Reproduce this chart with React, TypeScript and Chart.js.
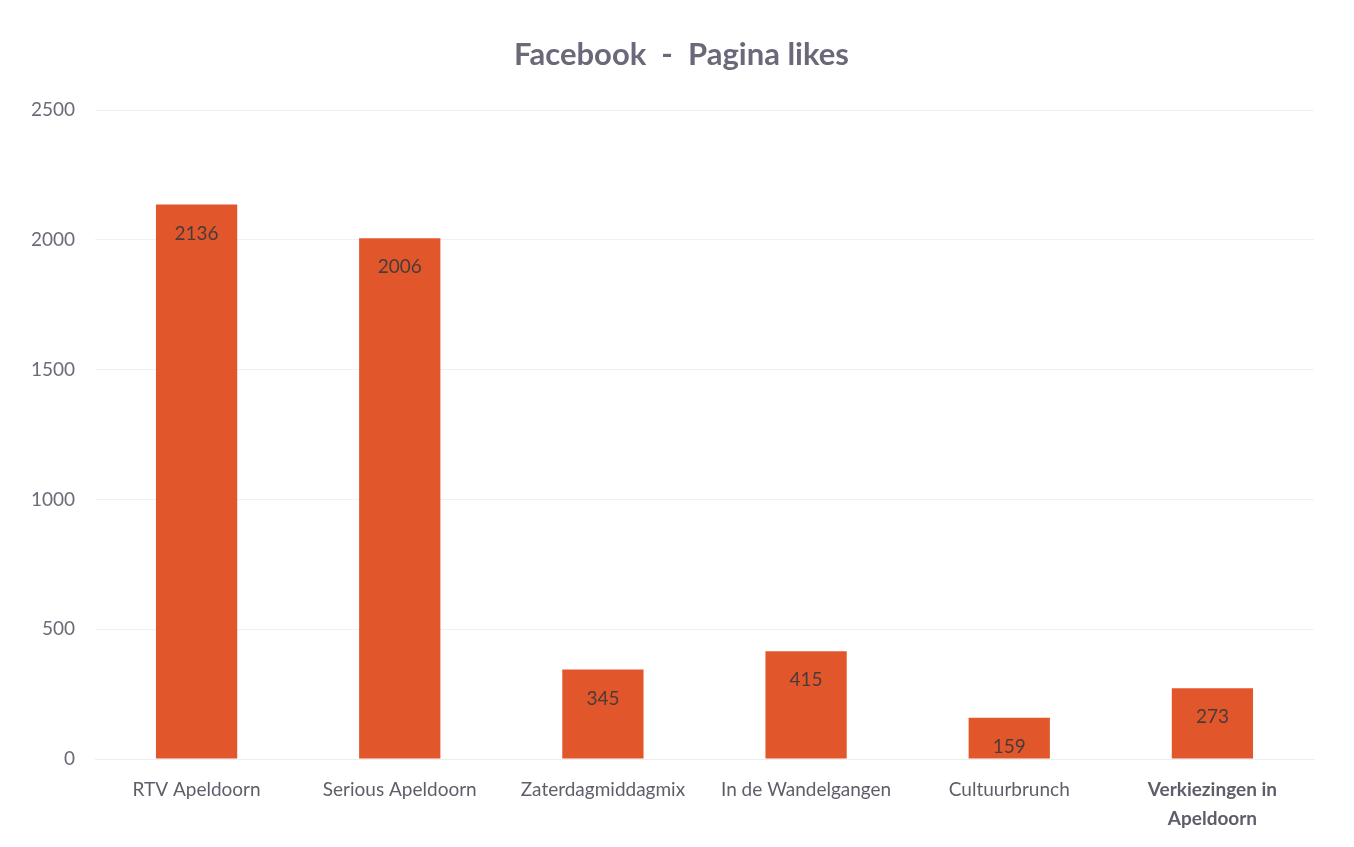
import React, { useEffect, useRef } from "react";
import { Chart, registerables } from "chart.js";

Chart.register(...registerables);

const categories: (string | string[])[] = [
  "RTV Apeldoorn",
  "Serious Apeldoorn",
  "Zaterdagmiddagmix",
  "In de Wandelgangen",
  "Cultuurbrunch",
  ["Verkiezingen in", "Apeldoorn"],
];
const likes: number[] = [2136, 2006, 345, 415, 159, 273];
const titleText = "Facebook  -  Pagina likes";

const FONT = "Lato, 'Open Sans', sans-serif";

const valueLabels = {
  id: "valueLabels",
  afterDatasetsDraw(chart: any) {
    const ctx = chart.ctx;
    const meta = chart.getDatasetMeta(0);
    ctx.save();
    ctx.font = `19px ${FONT}`;
    ctx.fillStyle = "#4a3b3b";
    ctx.textAlign = "center";
    ctx.textBaseline = "middle";
    meta.data.forEach((bar: any, i: number) => {
      ctx.fillText(String(likes[i]), bar.x, bar.y + 29);
    });
    ctx.restore();
  },
};

const chartTitle = {
  id: "chartTitle",
  afterDraw(chart: any) {
    const ctx = chart.ctx;
    const area = chart.chartArea;
    ctx.save();
    ctx.font = `bold 31px ${FONT}`;
    ctx.fillStyle = "#6b6979";
    ctx.textAlign = "center";
    ctx.textBaseline = "middle";
    ctx.fillText(titleText, (area.left + area.right) / 2 - 23, area.top - 55);
    ctx.restore();
  },
};

export default function App() {
  const ref = useRef<HTMLCanvasElement | null>(null);
  useEffect(() => {
    if (!ref.current) return;
    const chart = new Chart(ref.current, {
      type: "bar",
      data: {
        labels: categories,
        datasets: [
          {
            data: likes,
            backgroundColor: "#E1572B",
            barPercentage: 0.4,
            categoryPercentage: 1,
          },
        ],
      },
      options: {
        animation: false,
        responsive: true,
        maintainAspectRatio: false,
        layout: { padding: { left: 0, right: 40, top: 110, bottom: 0 } },
        plugins: {
          legend: { display: false },
          tooltip: { enabled: false },
          title: { display: false },
        },
        scales: {
          y: {
            min: 0,
            max: 2500,
            ticks: {
              stepSize: 500,
              color: "#6b6b78",
              font: { family: FONT, size: 19 },
              padding: 20,
              callback: (v: any) => String(v),
            },
            grid: { color: "#f1f1f1", drawTicks: false },
            border: { display: false },
            afterFit: (s: any) => {
              s.width = 95;
            },
          },
          x: {
            ticks: {
              color: "#5e5e6a",
              font: (c: any) => ({
                family: FONT,
                size: 19,
                weight: c.index === 5 ? "bold" : "normal",
                lineHeight: 1.5,
              }),
              padding: 17,
              maxRotation: 0,
              autoSkip: false,
            },
            grid: { display: false, drawTicks: false },
            border: { color: "#eeeeee" },
            afterFit: (s: any) => {
              s.height = 88;
            },
          },
        },
      },
      plugins: [valueLabels, chartTitle],
    });
    return () => chart.destroy();
  }, []);
  return (
    <div style={{ position: "fixed", left: 0, top: 0, width: 1354, height: 847, background: "#fff" }}>
      <canvas ref={ref} />
    </div>
  );
}
